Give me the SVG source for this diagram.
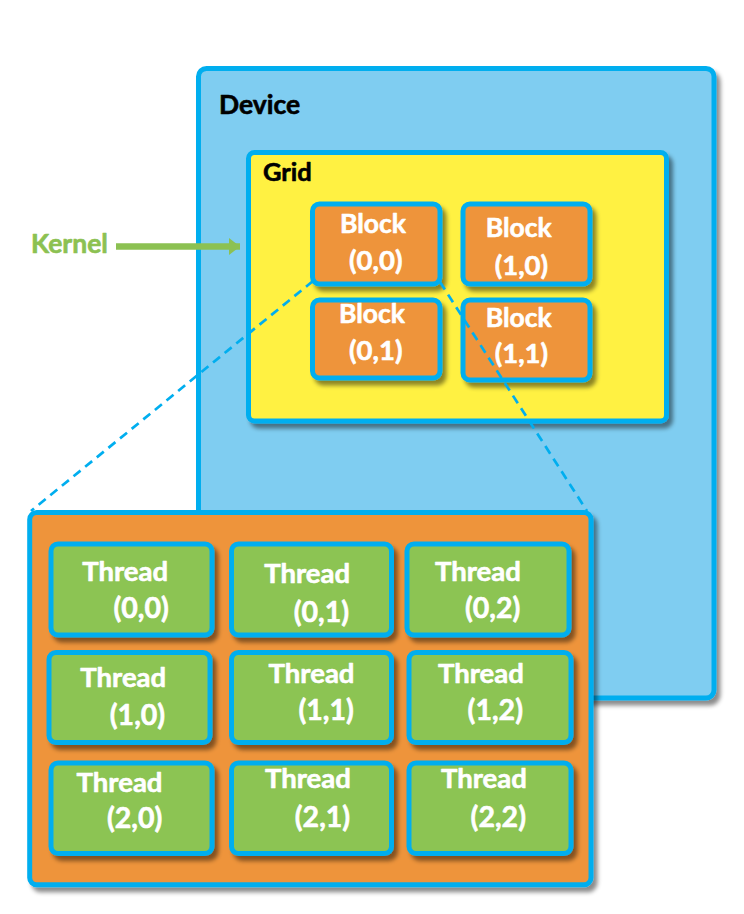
<svg xmlns="http://www.w3.org/2000/svg" width="744" height="914" viewBox="0 0 744 914">
<defs>
<filter id="sh" x="-10%" y="-10%" width="130%" height="130%">
<feDropShadow dx="4" dy="5" stdDeviation="2.2" flood-color="#000" flood-opacity="0.45"/>
</filter>
<marker id="ah" markerWidth="11" markerHeight="17" refX="11" refY="8.5" orient="auto" markerUnits="userSpaceOnUse">
<path d="M0,0 L11,8.5 L0,17 Z" fill="#8CC152"/>
</marker>
</defs>
<style>
.box{stroke:#00AEEF;stroke-width:5;filter:url(#sh)}
.dev{fill:#7FCDF1}
.grid{fill:#FFF143}
.blk{fill:#EE943B}
.thr{fill:#8CC452}
.t{font-family:Lato,"Open Sans","Liberation Sans",sans-serif;font-weight:700;stroke-width:0.6;stroke-linejoin:round}
.w{fill:#FFFFFF;stroke:#FFFFFF;font-size:27.5px}
.wn{fill:#FFFFFF;stroke:#FFFFFF;font-size:28.5px}
.b{fill:#FFFFFF;stroke:#FFFFFF;font-size:26.5px}
.bn{fill:#FFFFFF;stroke:#FFFFFF;font-size:27.5px}
.k{fill:#000000;stroke:#000000}
.dash{fill:none;stroke:#00AEEF;stroke-width:2.7;stroke-dasharray:9 6}
</style>
<rect width="744" height="914" fill="#FFFFFF"/>
<g id="device">
<rect class="box dev" x="198.5" y="68.5" width="515.5" height="629.5" rx="8"/>
<text class="t k" x="219" y="114" font-size="26.5">Device</text>
</g>
<g id="grid">
<rect class="box grid" x="248.5" y="152.5" width="418" height="268.5" rx="6"/>
<text class="t k" x="263" y="180.7" font-size="25.5">Grid</text>
</g>
<g id="block-0-0">
<rect class="box blk" x="312.5" y="204" width="127.5" height="80" rx="7"/>
<text class="t b" x="340" y="232.7">Block</text>
<text class="t bn" x="349" y="270">(0,0)</text>
</g>
<g id="block-1-0">
<rect class="box blk" x="463" y="204" width="127" height="80" rx="7"/>
<text class="t b" x="485.7" y="236.7">Block</text>
<text class="t bn" x="494.7" y="275">(1,0)</text>
</g>
<g id="block-0-1">
<rect class="box blk" x="312.5" y="300" width="127.5" height="78" rx="7"/>
<text class="t b" x="339" y="322.7">Block</text>
<text class="t bn" x="349" y="360">(0,1)</text>
</g>
<g id="block-1-1">
<rect class="box blk" x="463" y="300" width="127" height="80" rx="7"/>
<text class="t b" x="485.7" y="327.3">Block</text>
<text class="t bn" x="494.7" y="363.3">(1,1)</text>
</g>
<g id="kernel">
<text class="t" x="31" y="253" font-size="26.5" fill="#8CC152" stroke="#8CC152">Kernel</text>
</g>
<g id="connectors">
<line x1="116" y1="246.5" x2="240" y2="246.5" stroke="#8CC152" stroke-width="6.5" marker-end="url(#ah)"/>
<line class="dash" x1="313" y1="281" x2="31" y2="511"/>
<line class="dash" x1="440" y1="282" x2="587" y2="511"/>
</g>
<g id="block-detail">
<rect class="box blk" x="29.7" y="512.5" width="561.3" height="372.2" rx="7"/>
</g>
<g id="thread-0-0">
<rect class="box thr" x="51" y="544" width="161" height="91" rx="7"/>
<text class="t w" x="82.2" y="580.7">Thread</text>
<text class="t wn" x="113.5" y="618.3">(0,0)</text>
</g>
<g id="thread-0-1">
<rect class="box thr" x="231.5" y="544" width="160" height="91" rx="7"/>
<text class="t w" x="264.2" y="583.3">Thread</text>
<text class="t wn" x="293.7" y="621.7">(0,1)</text>
</g>
<g id="thread-0-2">
<rect class="box thr" x="407" y="544" width="162" height="91" rx="7"/>
<text class="t w" x="435" y="580.7">Thread</text>
<text class="t wn" x="465" y="618.3">(0,2)</text>
</g>
<g id="thread-1-0">
<rect class="box thr" x="49" y="652.5" width="161" height="90" rx="7"/>
<text class="t w" x="80.3" y="687.3">Thread</text>
<text class="t wn" x="109.8" y="725">(1,0)</text>
</g>
<g id="thread-1-1">
<rect class="box thr" x="231.5" y="652.5" width="160" height="90" rx="7"/>
<text class="t w" x="268.6" y="682.7">Thread</text>
<text class="t wn" x="298.5" y="720">(1,1)</text>
</g>
<g id="thread-1-2">
<rect class="box thr" x="409" y="652.5" width="162" height="90" rx="7"/>
<text class="t w" x="438" y="682.7">Thread</text>
<text class="t wn" x="467.6" y="720">(1,2)</text>
</g>
<g id="thread-2-0">
<rect class="box thr" x="51" y="763" width="161" height="90.5" rx="7"/>
<text class="t w" x="76.6" y="791.7">Thread</text>
<text class="t wn" x="106.9" y="828.3">(2,0)</text>
</g>
<g id="thread-2-1">
<rect class="box thr" x="231.5" y="763" width="160" height="90.5" rx="7"/>
<text class="t w" x="265" y="788.3">Thread</text>
<text class="t wn" x="294.8" y="826.7">(2,1)</text>
</g>
<g id="thread-2-2">
<rect class="box thr" x="409" y="763" width="162" height="90.5" rx="7"/>
<text class="t w" x="441" y="788.3">Thread</text>
<text class="t wn" x="470.6" y="826.7">(2,2)</text>
</g>
</svg>
